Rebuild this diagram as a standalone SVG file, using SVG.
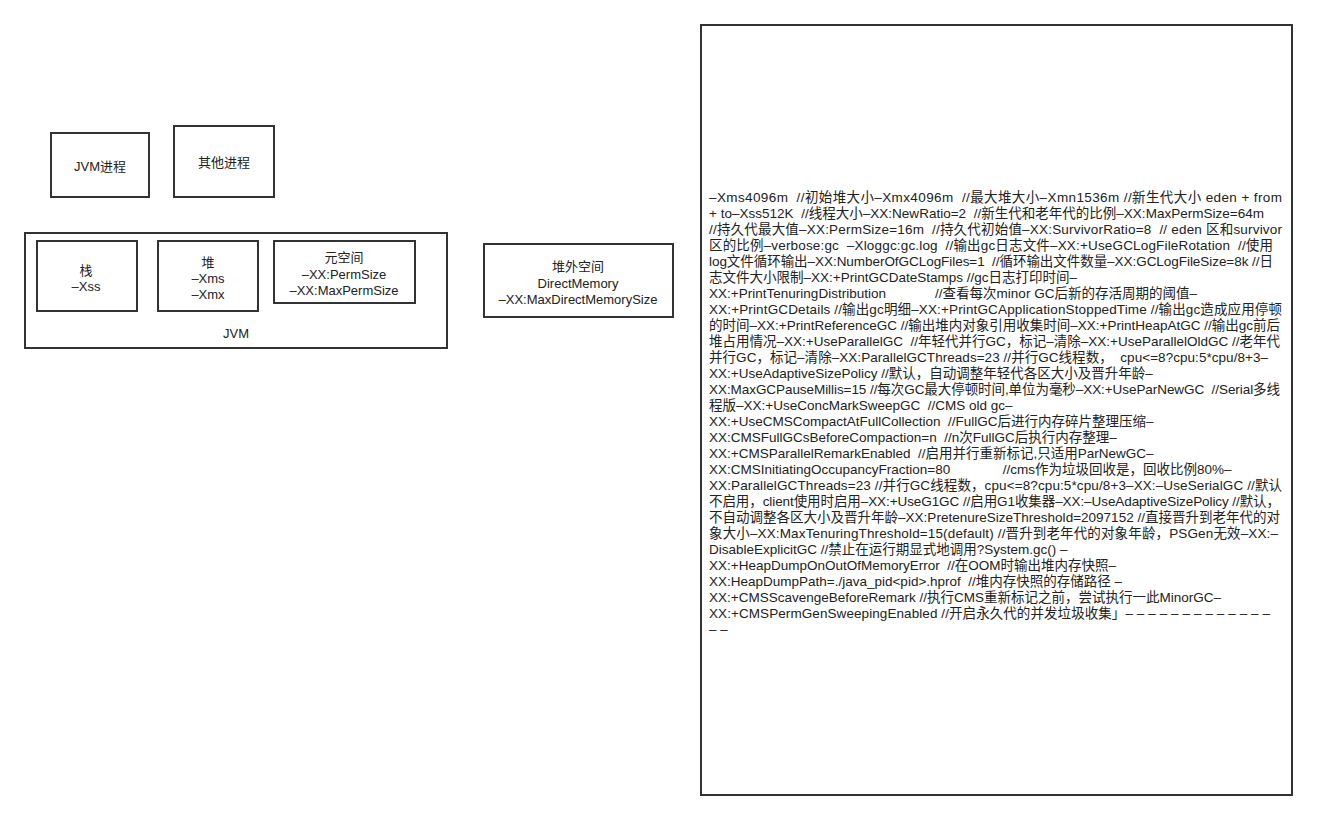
<svg xmlns="http://www.w3.org/2000/svg" width="1317" height="821" viewBox="0 0 1317 821">
<style>
.box{fill:#fff;stroke:#333;stroke-width:2}
.t{font-family:"Liberation Sans","Noto Sans CJK SC",sans-serif;font-size:13px;fill:#222;text-anchor:middle;dominant-baseline:central}
.b{font-family:"Liberation Sans","Noto Sans CJK SC",sans-serif;font-size:13.5px;fill:#222;white-space:pre}
</style>
<rect width="1317" height="821" fill="#fff"/>
<g id="jvm-process"><rect class="box" x="51" y="133" width="98" height="64"/><text class="t" x="100" y="166">JVM进程</text></g>
<g id="other-process"><rect class="box" x="174" y="126" width="100" height="71"/><text class="t" x="224" y="162">其他进程</text></g>
<g id="jvm"><rect class="box" x="25" y="233" width="422" height="115"/><text class="t" x="236" y="333">JVM</text></g>
<g id="stack"><rect class="box" x="37" y="241" width="100" height="70"/><text class="t" x="86" y="270">栈</text><text class="t" x="86" y="286">–Xss</text></g>
<g id="heap"><rect class="box" x="158" y="241" width="100" height="70"/><text class="t" x="208" y="262">堆</text><text class="t" x="208" y="278">–Xms</text><text class="t" x="208" y="294">–Xmx</text></g>
<g id="metaspace"><rect class="box" x="274" y="241" width="141" height="62"/><text class="t" x="344" y="257">元空间</text><text class="t" x="344" y="274">–XX:PermSize</text><text class="t" x="344" y="290">–XX:MaxPermSize</text></g>
<g id="direct-memory"><rect class="box" x="484" y="244" width="189" height="73"/><text class="t" x="578" y="266">堆外空间</text><text class="t" x="578" y="283">DirectMemory</text><text class="t" x="578" y="299">–XX:MaxDirectMemorySize</text></g>
<g id="jvm-options"><rect class="box" x="701" y="25" width="591" height="770"/>
<text class="b" x="709" y="202" textLength="573" lengthAdjust="spacing">–Xms4096m  //初始堆大小–Xmx4096m  //最大堆大小–Xmn1536m //新生代大小 eden + from</text>
<text class="b" x="709" y="218" textLength="555" lengthAdjust="spacing">+ to–Xss512K  //线程大小–XX:NewRatio=2  //新生代和老年代的比例–XX:MaxPermSize=64m</text>
<text class="b" x="709" y="234" textLength="573" lengthAdjust="spacing">//持久代最大值–XX:PermSize=16m  //持久代初始值–XX:SurvivorRatio=8  // eden 区和survivor</text>
<text class="b" x="709" y="250" textLength="564" lengthAdjust="spacing">区的比例–verbose:gc  –Xloggc:gc.log  //输出gc日志文件–XX:+UseGCLogFileRotation  //使用</text>
<text class="b" x="709" y="266" textLength="564" lengthAdjust="spacing">log文件循环输出–XX:NumberOfGCLogFiles=1  //循环输出文件数量–XX:GCLogFileSize=8k //日</text>
<text class="b" x="709" y="282">志文件大小限制–XX:+PrintGCDateStamps //gc日志打印时间–</text>
<text class="b" x="709" y="298" textLength="488" lengthAdjust="spacing">XX:+PrintTenuringDistribution             //查看每次minor GC后新的存活周期的阈值–</text>
<text class="b" x="709" y="314" textLength="573" lengthAdjust="spacing">XX:+PrintGCDetails //输出gc明细–XX:+PrintGCApplicationStoppedTime //输出gc造成应用停顿</text>
<text class="b" x="709" y="330" textLength="571" lengthAdjust="spacing">的时间–XX:+PrintReferenceGC //输出堆内对象引用收集时间–XX:+PrintHeapAtGC //输出gc前后</text>
<text class="b" x="709" y="346" textLength="571" lengthAdjust="spacing">堆占用情况–XX:+UseParallelGC  //年轻代并行GC，标记–清除–XX:+UseParallelOldGC //老年代</text>
<text class="b" x="709" y="362" textLength="559" lengthAdjust="spacing">并行GC，标记–清除–XX:ParallelGCThreads=23 //并行GC线程数，  cpu&lt;=8?cpu:5*cpu/8+3–</text>
<text class="b" x="709" y="378">XX:+UseAdaptiveSizePolicy //默认，自动调整年轻代各区大小及晋升年龄–</text>
<text class="b" x="709" y="394" textLength="571" lengthAdjust="spacing">XX:MaxGCPauseMillis=15 //每次GC最大停顿时间,单位为毫秒–XX:+UseParNewGC  //Serial多线</text>
<text class="b" x="709" y="410">程版–XX:+UseConcMarkSweepGC  //CMS old gc–</text>
<text class="b" x="709" y="426">XX:+UseCMSCompactAtFullCollection  //FullGC后进行内存碎片整理压缩–</text>
<text class="b" x="709" y="442">XX:CMSFullGCsBeforeCompaction=n  //n次FullGC后执行内存整理–</text>
<text class="b" x="709" y="458">XX:+CMSParallelRemarkEnabled  //启用并行重新标记,只适用ParNewGC–</text>
<text class="b" x="709" y="474">XX:CMSInitiatingOccupancyFraction=80              //cms作为垃圾回收是，回收比例80%–</text>
<text class="b" x="709" y="490" textLength="573" lengthAdjust="spacing">XX:ParallelGCThreads=23 //并行GC线程数，cpu&lt;=8?cpu:5*cpu/8+3–XX:–UseSerialGC //默认</text>
<text class="b" x="709" y="506" textLength="571" lengthAdjust="spacing">不启用，client使用时启用–XX:+UseG1GC //启用G1收集器–XX:–UseAdaptiveSizePolicy //默认，</text>
<text class="b" x="709" y="522" textLength="571" lengthAdjust="spacing">不自动调整各区大小及晋升年龄–XX:PretenureSizeThreshold=2097152 //直接晋升到老年代的对</text>
<text class="b" x="709" y="538" textLength="569" lengthAdjust="spacing">象大小–XX:MaxTenuringThreshold=15(default) //晋升到老年代的对象年龄，PSGen无效–XX:–</text>
<text class="b" x="709" y="554">DisableExplicitGC //禁止在运行期显式地调用?System.gc() –</text>
<text class="b" x="709" y="570">XX:+HeapDumpOnOutOfMemoryError  //在OOM时输出堆内存快照–</text>
<text class="b" x="709" y="586">XX:HeapDumpPath=./java_pid&lt;pid&gt;.hprof  //堆内存快照的存储路径 –</text>
<text class="b" x="709" y="602">XX:+CMSScavengeBeforeRemark //执行CMS重新标记之前，尝试执行一此MinorGC–</text>
<text class="b" x="709" y="618" textLength="561" lengthAdjust="spacing">XX:+CMSPermGenSweepingEnabled //开启永久代的并发垃圾收集」– – – – – – – – – – – – –</text>
<text class="b" x="709" y="634">– –</text>
</g>
</svg>
